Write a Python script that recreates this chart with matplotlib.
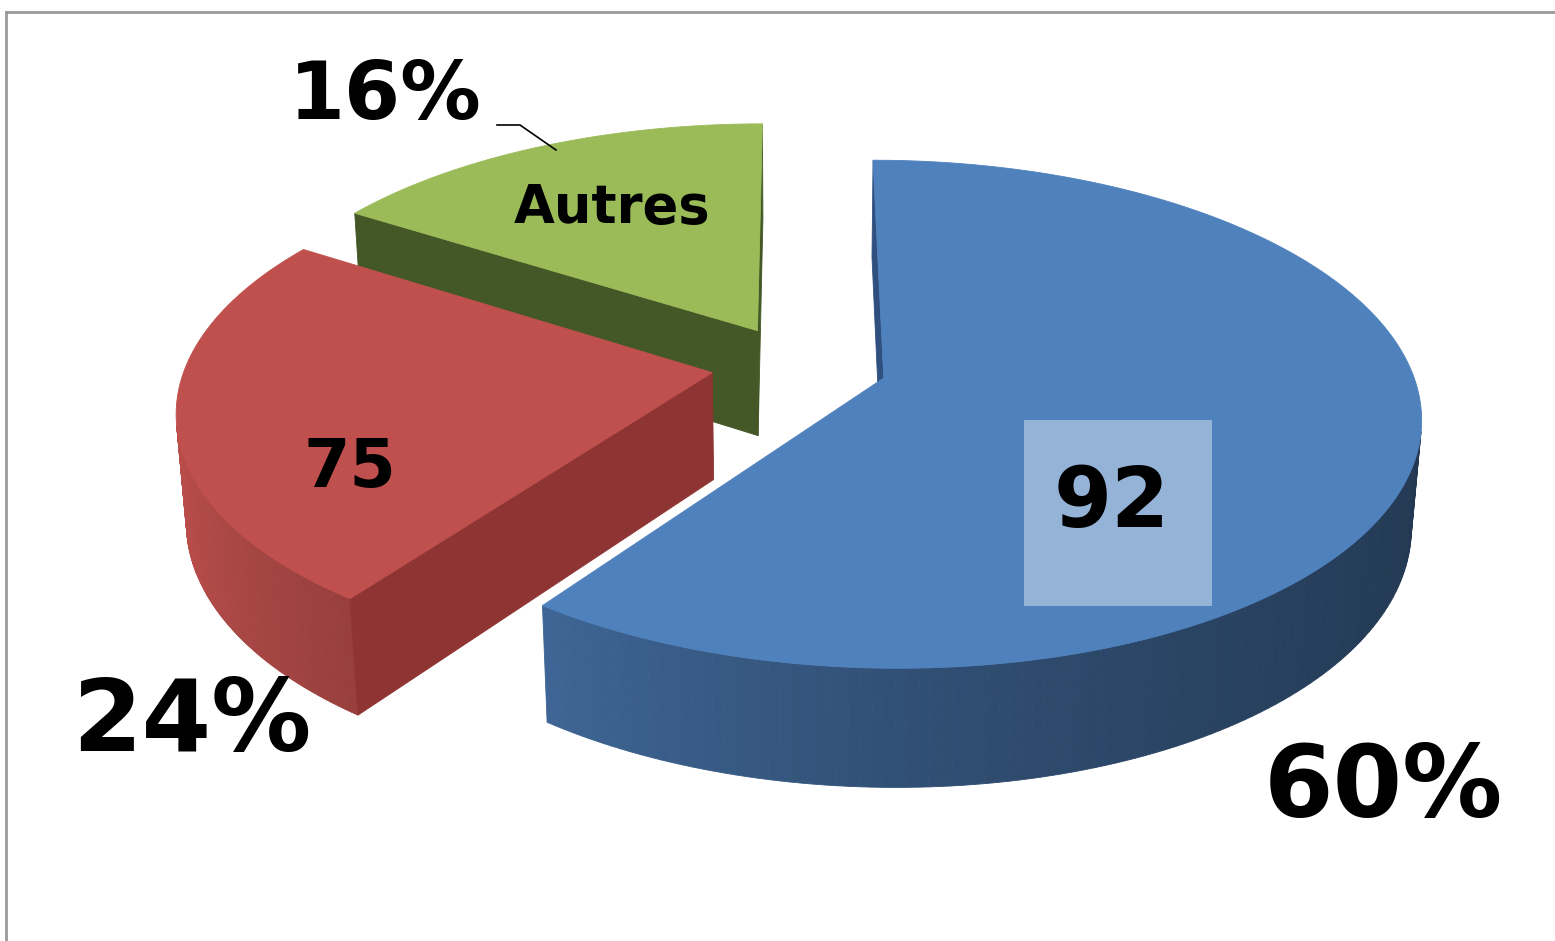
import numpy as np
import matplotlib.pyplot as plt
from matplotlib.patches import Polygon, Rectangle
from matplotlib.colors import to_rgb

# data
categories = ['92', '75', 'Autres']
shares = [60, 24, 16]
pct_labels = ['60%', '24%', '16%']

# style
top_colors = ['#4F81BD', '#C0504D', '#9BBB59']
cut_colors = ['#2F4F7F', '#8E3432', '#435826']
explode = [0.17, 0.165, 0.163]

# simple perspective camera for the 3d look
elev = np.arcsin(0.454)
cam_d = 6.29
focal = 540 * cam_d
xstretch = 0.975
org = (798, 365)
thick = 0.225
cam = np.array([0.0, -cam_d * np.cos(elev), cam_d * np.sin(elev)])


def project(X, Y, Z):
    c, s = np.cos(elev), np.sin(elev)
    depth = cam_d + Y * c - Z * s
    return (org[0] + xstretch * focal * X / depth,
            org[1] - focal * (Y * s + Z * c) / depth)


def facing(p, n):
    return np.dot(cam - p, n) > 0


def shade(col, t):
    f = np.interp(t % 360, [0, 180, 200, 240, 270, 300, 330, 360],
                  [0.42, 0.98, 0.95, 0.76, 0.62, 0.52, 0.46, 0.42])
    return tuple(np.clip(np.array(to_rgb(col)) * f, 0, 1))


def poly(ax, pts, col):
    ax.add_patch(Polygon(pts, closed=True, fc=col, ec=col, lw=0.6))


fig = plt.figure(figsize=(15.55, 9.41), dpi=100)
ax = fig.add_axes([0, 0, 1, 1])
ax.set_xlim(0, 1555)
ax.set_ylim(941, 0)
ax.axis('off')

# angles: start at 12 o'clock, clockwise
cum = np.concatenate([[0], np.cumsum(shares)]) / sum(shares) * 360
spans = [(90 - cum[i + 1], 90 - cum[i]) for i in range(len(shares))]

# draw back to front: Autres, 75, 92
for i in [2, 1, 0]:
    t1, t2 = spans[i]
    mid = np.radians((t1 + t2) / 2)
    cx, cy = explode[i] * np.cos(mid), explode[i] * np.sin(mid)
    ts = np.linspace(t1, t2, 200)
    rad = np.radians(ts)
    rx, ry = cx + np.cos(rad), cy + np.sin(rad)

    # outer wall
    for k in range(len(ts) - 1):
        tm = np.radians((ts[k] + ts[k + 1]) / 2)
        p = np.array([cx + np.cos(tm), cy + np.sin(tm), 0])
        n = np.array([np.cos(tm), np.sin(tm), 0])
        if not facing(p, n):
            continue
        a = project(rx[k], ry[k], 0)
        b = project(rx[k + 1], ry[k + 1], 0)
        c = project(rx[k + 1], ry[k + 1], -thick)
        d = project(rx[k], ry[k], -thick)
        poly(ax, [a, b, c, d], shade(top_colors[i], np.degrees(tm)))

    # cut faces
    for ang, sgn in [(t1, -1), (t2, 1)]:
        r = np.radians(ang)
        nr = r + sgn * np.pi / 2
        n = np.array([np.cos(nr), np.sin(nr), 0])
        p = np.array([cx + 0.5 * np.cos(r), cy + 0.5 * np.sin(r), 0])
        if not facing(p, n):
            continue
        ex, ey = cx + np.cos(r), cy + np.sin(r)
        pts = [project(cx, cy, 0), project(ex, ey, 0),
               project(ex, ey, -thick), project(cx, cy, -thick)]
        poly(ax, pts, cut_colors[i])

    # top face
    sx, sy = project(rx, ry, np.zeros_like(rx))
    c0 = project(cx, cy, 0)
    pts = [c0] + list(zip(sx, sy))
    poly(ax, pts, top_colors[i])

# labels
font = dict(family='DejaVu Sans', fontweight='bold', color='black',
            ha='center', va='center')
ax.add_patch(Rectangle((1024, 420), 188, 186, fc='#95B3D7', ec='none'))
ax.text(1112, 503, categories[0], fontsize=60, **font)
ax.text(350, 468, categories[1], fontsize=48, **font)
ax.text(612, 208, categories[2], fontsize=38, **font)

ax.text(1383, 790, pct_labels[0], fontsize=72, **font)
ax.text(192, 723, pct_labels[1], fontsize=72, **font)
ax.text(385, 97, pct_labels[2], fontsize=58, **font)
ax.plot([497, 520, 556], [125, 125, 150], color='black', lw=1.2)

# chart frame
ax.plot([6, 1555], [12, 12], color='#9A9A9A', lw=2)
ax.plot([6, 6], [12, 941], color='#9A9A9A', lw=2)

fig.savefig('out.png', dpi=100)
